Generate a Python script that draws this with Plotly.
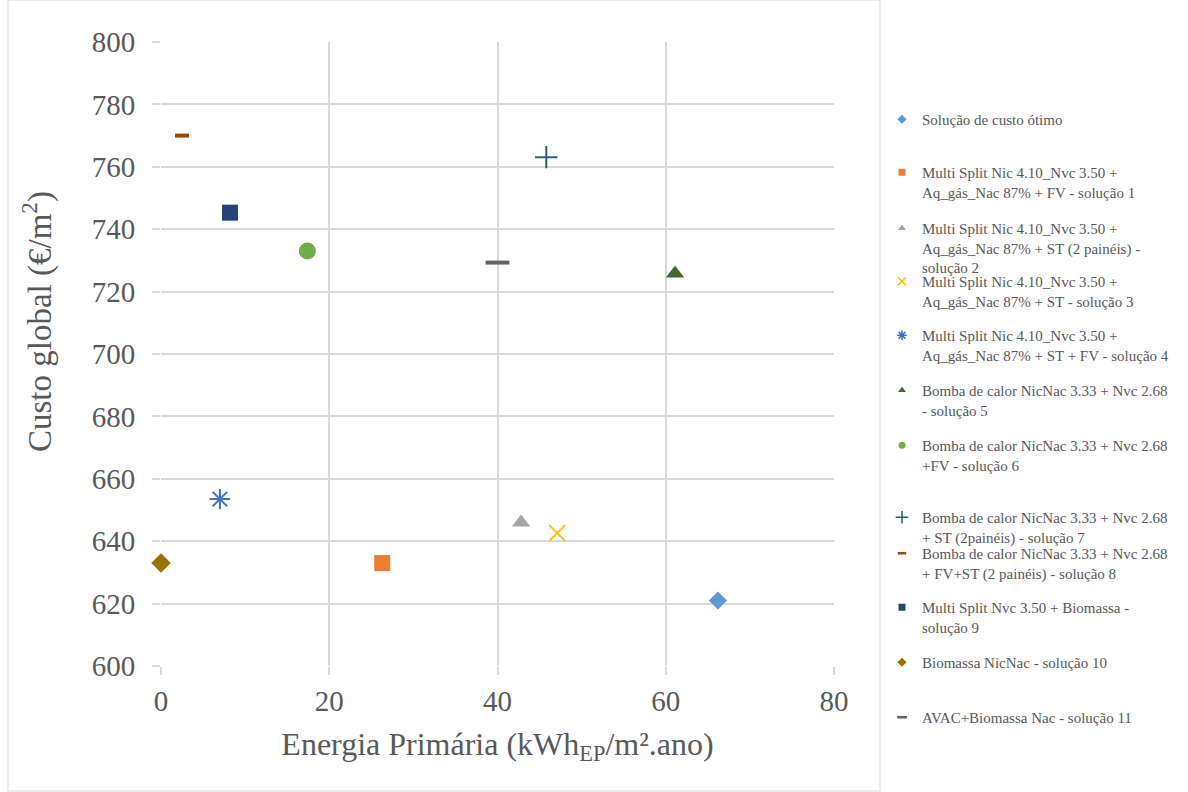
import plotly.graph_objects as go

names = [
    "Solução de custo ótimo",
    "Multi Split Nic 4.10_Nvc 3.50 +<br>Aq_gás_Nac 87% + FV - solução 1",
    "Multi Split Nic 4.10_Nvc 3.50 +<br>Aq_gás_Nac 87% + ST (2 painéis) -<br>solução 2",
    "Multi Split Nic 4.10_Nvc 3.50 +<br>Aq_gás_Nac 87% + ST - solução 3",
    "Multi Split Nic 4.10_Nvc 3.50 +<br>Aq_gás_Nac 87% + ST + FV - solução 4",
    "Bomba de calor NicNac 3.33 + Nvc 2.68<br>- solução 5",
    "Bomba de calor NicNac 3.33 + Nvc 2.68<br>+FV - solução 6",
    "Bomba de calor NicNac 3.33 + Nvc 2.68<br>+ ST (2painéis) - solução 7",
    "Bomba de calor NicNac 3.33 + Nvc 2.68<br>+ FV+ST (2 painéis) - solução 8",
    "Multi Split Nvc 3.50 + Biomassa -<br>solução 9",
    "Biomassa NicNac - solução 10",
    "AVAC+Biomassa Nac - solução 11",
]
energia = [66.2, 26.3, 42.8, 47.1, 7.0, 61.1, 17.4, 45.8, 2.5, 8.2, 0.0, 40.0]
custo = [621, 633, 646, 642.6, 653.5, 725.8, 733, 763.1, 770, 745.3, 633, 729.3]

x_title = "Energia Primária (kWh<sub>EP</sub>/m².ano)"
y_title = "Custo global (€/m<sup>2</sup>)"

symbols = ["diamond", "square", "triangle-up", "x-thin-open", "asterisk-open", "triangle-up",
           "circle", "cross-thin-open", "line-ew-open", "square", "diamond", "line-ew-open"]
colors = ["#5B9BD5", "#ED7D31", "#A5A5A5", "#FFC000", "#4472C4", "#43682B",
          "#70AD47", "#255E91", "#9E480E", "#264478", "#997300", "#636363"]
sizes = [14, 16, 16, 16, 17, 16, 17, 16, 10, 16, 15, 17]
lwidths = [0, 0, 0, 2, 2, 0, 0, 2, 4, 0, 0, 4]
leg_sizes = [7, 7, 7, 8, 8, 7, 7, 9, 6, 7, 7, 7]
leg_lw = [0, 0, 0, 1.5, 1.5, 0, 0, 1.5, 2.5, 0, 0, 2.5]
legend_tops = [113, 166, 222, 275, 329, 384, 439, 511, 547, 601, 656, 711]

L, R, T, B = 161, 834, 42, 666
W, H = 1188, 792
SERIF = "Liberation Serif"

fig = go.Figure()
for i in range(len(names)):
    lname = "legend" if i == 0 else f"legend{i+1}"
    fig.add_trace(go.Scatter(
        x=[energia[i]], y=[custo[i]], mode="markers", name=names[i],
        showlegend=False, cliponaxis=False,
        marker=dict(symbol=symbols[i], color=colors[i], size=sizes[i],
                    line=dict(width=lwidths[i], color=colors[i])),
    ))
    fig.add_trace(go.Scatter(
        x=[None], y=[None], mode="markers", name=names[i], legend=lname,
        marker=dict(symbol=symbols[i], color=colors[i], size=leg_sizes[i],
                    line=dict(width=leg_lw[i], color=colors[i])),
    ))

layout_legends = {}
for i, top in enumerate(legend_tops):
    lname = "legend" if i == 0 else f"legend{i+1}"
    layout_legends[lname] = dict(
        x=(882 - L) / (R - L), xanchor="left",
        y=(B - (top - 10)) / (B - T), yanchor="top",
        font=dict(family=SERIF, size=15, color="#595959"),
        bgcolor="rgba(0,0,0,0)", valign="top", itemwidth=30,
        tracegroupgap=0,
    )

fig.update_layout(
    width=W, height=H,
    margin=dict(l=L, r=W - R, t=T, b=H - B),
    plot_bgcolor="white", paper_bgcolor="white",
    font=dict(family=SERIF, color="#595959"),
    showlegend=True,
    xaxis=dict(range=[0, 80], dtick=20, showgrid=True, gridcolor="#D9D9D9", gridwidth=2,
               zeroline=False, showline=False, tickfont=dict(family=SERIF, size=29, color="#595959"),
               ticks="outside", ticklen=8, tickwidth=2, tickcolor="#D9D9D9",
               ticklabelstandoff=1,
               title=dict(text=x_title,
                          font=dict(family=SERIF, size=32, color="#595959"), standoff=16)),
    yaxis=dict(range=[600, 800], dtick=20, showgrid=True, gridcolor="#D9D9D9", gridwidth=2,
               zeroline=False, showline=False, tickfont=dict(family=SERIF, size=29, color="#595959"),
               ticks="outside", ticklen=8, tickwidth=2, tickcolor="#D9D9D9",
               ticklabelstandoff=11),
    annotations=[dict(text=y_title, xref="paper", yref="paper",
                      x=(37 - L) / (R - L), y=(B - 321) / (B - T),
                      xanchor="center", yanchor="middle", textangle=-90, showarrow=False,
                      font=dict(family=SERIF, size=33, color="#595959"))],
    shapes=[dict(type="rect", xref="paper", yref="paper",
                 x0=(8 - L) / (R - L), x1=(880 - L) / (R - L),
                 y0=(B - 791) / (B - T), y1=(B - 0) / (B - T),
                 line=dict(color="#D9D9D9", width=1), fillcolor="rgba(0,0,0,0)", layer="below")],
    **layout_legends,
)

fig.write_html("out.html")
